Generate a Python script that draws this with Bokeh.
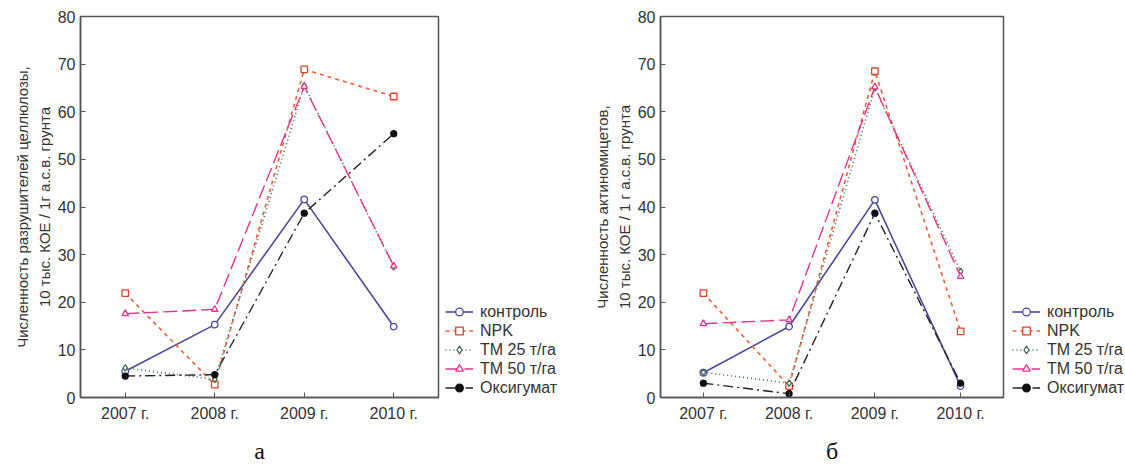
from bokeh.plotting import figure
from bokeh.models import FactorRange, Range1d, Legend, LegendItem, Title, ColumnDataSource
from bokeh.layouts import row
from bokeh.embed import file_html
from bokeh.resources import INLINE

years = ["2007 г.", "2008 г.", "2009 г.", "2010 г."]
series_names = ["контроль", "NPK", "ТМ 25 т/га", "ТМ 50 т/га", "Оксигумат"]

# Chart а: cellulose decomposers
a_control = [5.5, 15.3, 41.6, 14.9]
a_npk = [21.9, 2.7, 68.9, 63.2]
a_tm25 = [6.2, 3.8, 65.5, 27.4]
a_tm50 = [17.6, 18.5, 65.3, 27.6]
a_oxy = [4.5, 4.8, 38.7, 55.4]

# Chart б: actinomycetes
b_control = [5.2, 14.9, 41.5, 2.4]
b_npk = [21.9, 2.4, 68.5, 13.9]
b_tm25 = [5.3, 3.0, 65.0, 26.5]
b_tm50 = [15.5, 16.3, 65.2, 25.4]
b_oxy = [3.0, 0.8, 38.7, 3.0]

styles = [
    dict(color="#4a4a9c", dash="solid", marker="circle", fill=None, size=6.5, width=1.6, mcolor="#4a4a9c"),
    dict(color="#e8603a", dash="4 4", marker="square", fill=None, size=6.5, width=1.6, mcolor="#e0402a"),
    dict(color="#3f6e52", dash="1 3", marker="diamond", fill=None, size=6.5, width=1.6, mcolor="#3f6e52"),
    dict(color="#e8338c", dash="14 5", marker="triangle", fill=None, size=6.5, width=1.4, mcolor="#e8338c"),
    dict(color="#222222", dash="10 4 2 4", marker="circle", fill="#111111", size=6, width=1.4, mcolor="#111111"),
]

FONT = "Liberation Sans"
TXT = "#333333"


def draw_series(p, st, src):
    r1 = p.line("x", "y", source=src, line_color=st["color"], line_dash=st["dash"], line_width=st["width"])
    r2 = p.scatter("x", "y", source=src, marker=st["marker"], size=st["size"],
                   line_color=st["mcolor"], fill_color=st["fill"] if st["fill"] else "white",
                   line_width=1.3)
    return r1, r2


def make_fig(data, ylabel1, ylabel2, letter, width, bl, br, title_offset):
    p = figure(width=width, height=474, x_range=FactorRange(factors=years),
               y_range=Range1d(0, 80), output_backend="svg", toolbar_location=None,
               min_border_left=bl, min_border_right=br, min_border_top=16, min_border_bottom=10)
    p.xgrid.visible = False
    p.ygrid.visible = False
    p.background_fill_color = "white"
    p.border_fill_color = "white"
    p.outline_line_color = "#555555"
    p.outline_line_width = 1.5
    for vals, st in zip(data, styles):
        draw_series(p, st, ColumnDataSource(dict(x=years, y=vals)))
    for ax in (p.xaxis[0], p.yaxis[0]):
        ax.axis_line_color = "#555555"
        ax.axis_line_width = 1.5
        ax.major_tick_in = 5
        ax.major_tick_out = 0
        ax.minor_tick_line_color = None
        ax.major_tick_line_color = "#555555"
        ax.major_label_text_font = FONT
        ax.major_label_text_font_size = "16px"
        ax.major_label_text_color = TXT
    p.yaxis[0].ticker = [0, 10, 20, 30, 40, 50, 60, 70, 80]
    p.yaxis.major_label_standoff = 5
    p.xaxis.major_label_standoff = 7
    # two-line y label as stacked titles on the left
    for txt in (ylabel2, ylabel1):
        p.add_layout(Title(text=txt, align="center", text_font=FONT, text_font_size="15px",
                           text_font_style="normal", text_color=TXT, standoff=3), "left")
    t = Title(text=letter, align="center", text_font="Liberation Serif", text_font_size="24px",
              text_font_style="normal", text_color="#111111", offset=title_offset, standoff=22)
    p.add_layout(t, "below")
    return p


def make_legend_fig(data, width, lx):
    # legend panel: same series drawn off-view (y range above the data), only the legend shows
    lp = figure(width=width, height=474, x_range=FactorRange(factors=years), y_range=Range1d(1000, 1001),
                output_backend="svg", toolbar_location=None, min_border=0,
                x_axis_location=None, y_axis_location=None, title=None)
    lp.grid.visible = False
    lp.outline_line_color = None
    lp.background_fill_color = "white"
    lp.border_fill_color = "white"
    items = []
    for vals, name, st in zip(data, series_names, styles):
        r1, r2 = draw_series(lp, st, ColumnDataSource(dict(x=years, y=vals)))
        items.append(LegendItem(label=name, renderers=[r1, r2]))
    legend = Legend(items=items, location=(lx, 0), border_line_color=None,
                    background_fill_alpha=0, label_text_font=FONT, label_text_font_size="16px",
                    label_text_color=TXT, glyph_width=28, glyph_height=19, label_height=19,
                    spacing=0, padding=0, margin=0, label_standoff=7)
    lp.add_layout(legend, "center")
    return lp


data_a = [a_control, a_npk, a_tm25, a_tm50, a_oxy]
data_b = [b_control, b_npk, b_tm25, b_tm50, b_oxy]
pa = make_fig(data_a, "Численность разрушителей целлюлозы,", "10 тыс. КОЕ / 1г а.с.в. грунта", "а",
              440, 80, 2, 28)
la = make_legend_fig(data_a, 130, 5)
pb = make_fig(data_b, "Численность актиномицетов,", "10 тыс. КОЕ / 1 г а.с.в. грунта", "б",
              435, 90, 2, 26)
lb = make_legend_fig(data_b, 120, 7)

layout = row(pa, la, pb, lb, spacing=0)
open("out.html", "w").write(file_html(layout, INLINE))
